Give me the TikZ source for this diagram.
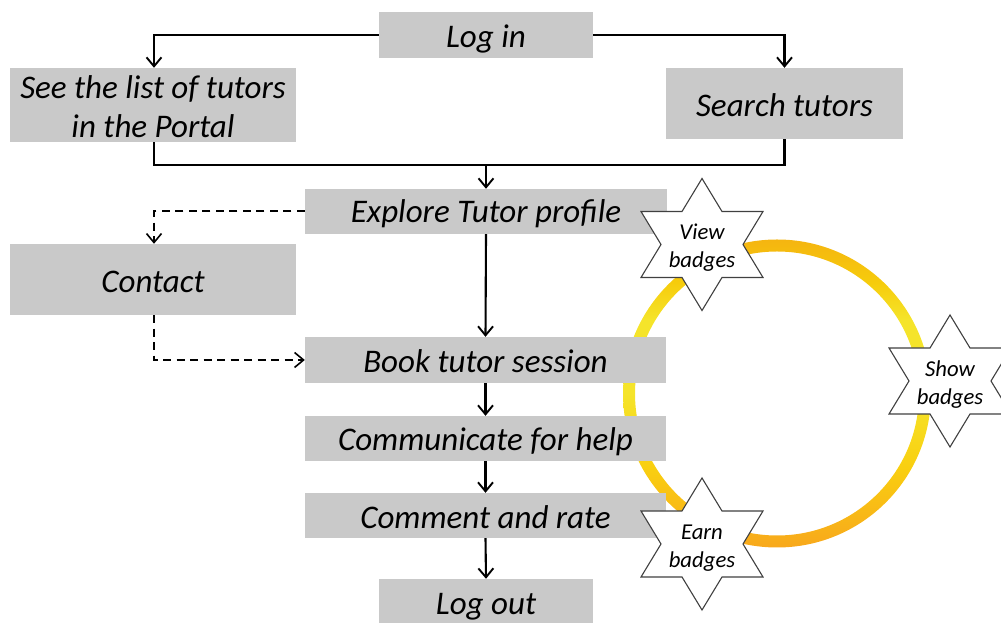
\documentclass[tikz,border=0pt]{standalone}
\usepackage{fontspec}
\setmainfont{Carlito}
\usetikzlibrary{arrows.meta}
\definecolor{ringA}{HTML}{F8A81C}
\definecolor{ringB}{HTML}{F9CF10}
\definecolor{ringC}{HTML}{F5E42A}
\definecolor{ringD}{HTML}{F6CC0C}
\definecolor{ringE}{HTML}{F5B510}
\definecolor{boxgray}{HTML}{C9C9C9}
\definecolor{starline}{HTML}{404040}
\pgfdeclareverticalshading{ringshade}{100bp}{
  color(0bp)=(ringA);
  color(25bp)=(ringA);
  color(38bp)=(ringB);
  color(50bp)=(ringC);
  color(62bp)=(ringC);
  color(68bp)=(ringD);
  color(75bp)=(ringE);
  color(100bp)=(ringE)}
\newcommand{\dropt}[2]{\raisebox{-#1pt}[\height][\depth]{#2}}
\tikzset{
  x=1pt,y=1pt,
  box/.style={fill=boxgray,inner sep=0pt,text=black,align=center,
    font=\fontsize{33}{39}\selectfont\itshape},
  badge/.style={inner sep=0pt,text=black,align=center,
    font=\fontsize{22.7}{28}\selectfont\itshape},
  flow/.style={draw=black,line width=2.1pt,-{Straight Barb[length=9pt,width=15pt,line width=1.9pt]}},
  plain/.style={draw=black,line width=2.1pt},
  dashflow/.style={draw=black,line width=2pt,dash pattern=on 8pt off 5.5pt,
    -{Straight Barb[length=9pt,width=15pt,line width=1.6pt]}},
  starshape/.style={draw=starline,line width=1.1pt,fill=white,line join=miter},
}
\newcommand{\sixstar}[3]{% name, x, y(px from top)
  \path[starshape] (#2,623-#3-66) -- (#2+20,623-#3-33) -- (#2+61,623-#3-33)
    -- (#2+41,623-#3) -- (#2+61,623-#3+33) -- (#2+20,623-#3+33)
    -- (#2,623-#3+66) -- (#2-20,623-#3+33) -- (#2-61,623-#3+33)
    -- (#2-41,623-#3) -- (#2-61,623-#3-33) -- (#2-20,623-#3-33) -- cycle;
}
\begin{document}
\begin{tikzpicture}
\useasboundingbox (0,0) rectangle (1001,623);
\clip (0,0) rectangle (1001,623);
% ring
\path[even odd rule,shading=ringshade]
  (777,229.5) circle[radius=154] (777,229.5) circle[radius=142];
% boxes
\node[box,minimum width=214pt,minimum height=46pt] (login) at (486,588) {\dropt{3.5}{Log in}};
\node[box,minimum width=286pt,minimum height=74pt] (list) at (153,518) {\dropt{2}{See the list of tutors}\\\dropt{2}{in the Portal}};
\node[box,minimum width=237pt,minimum height=71pt] (search) at (784.5,519.5) {\dropt{2}{Search tutors}};
\node[box,minimum width=362pt,minimum height=45pt] (explore) at (486,411.5) {\dropt{2}{Explore Tutor profile}};
\node[box,minimum width=286pt,minimum height=71pt] (contact) at (153,343.5) {\dropt{2}{Contact}};
\node[box,minimum width=361pt,minimum height=46pt] (book) at (485.5,263) {\dropt{1}{Book tutor session}};
\node[box,minimum width=361pt,minimum height=45pt] (comm) at (485.5,184.5) {\dropt{3}{Communicate for help}};
\node[box,minimum width=361pt,minimum height=45pt] (comment) at (485.5,107.5) {\dropt{2}{Comment and rate}};
\node[box,minimum width=214pt,minimum height=46pt] (logout) at (486,21) {\dropt{4.5}{Log out}};
\coordinate (merge) at (explore.north |- 0,458);
% connectors
\draw[flow] (login.west) -| ([xshift=1pt]list.north);
\draw[flow] (login.east) -| (search.north);
\draw[plain,line join=miter] ([xshift=1pt]list.south) |- (merge) -| (search.south);
\draw[flow] (merge) -- (explore.north);
\draw[flow] (explore.south) -- (book.north);
\draw[flow] (book.south) -- (comm.north);
\draw[flow] (comm.south) -- (comment.north);
\draw[flow] (comment.south) -- (logout.north);
\draw[dashflow] (explore.west) -| ([xshift=1pt]contact.north);
\draw[dashflow] ([xshift=1pt]contact.south) |- (book.west);
% badges
\sixstar{view}{702}{244.5}
\sixstar{show}{950}{381}
\sixstar{earn}{702}{544}
\node[badge] (viewt) at (702,375) {View\\badges};
\node[badge] (showt) at (950,238) {Show\\badges};
\node[badge] (earnt) at (702,75) {Earn\\badges};
\end{tikzpicture}
\end{document}
